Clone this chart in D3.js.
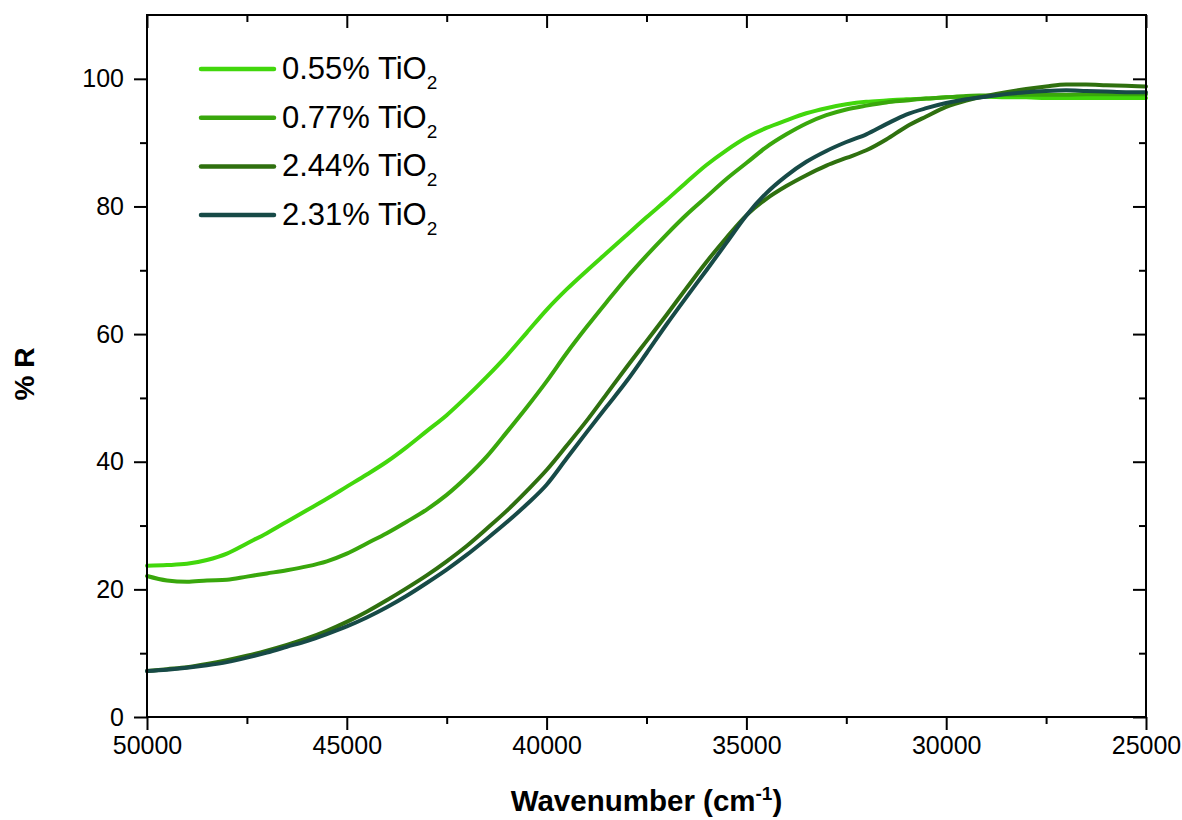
<!DOCTYPE html>
<meta charset="utf-8">
<style>

body { margin: 0; background: #fff; }

text {
  font-family: Arial, "Liberation Sans", sans-serif;
  fill: #000;
}

.axis path { display: none; }
.axis line { stroke: #000; stroke-width: 2px; }
.axis text { font-size: 25px; }

.frame {
  fill: none;
  stroke: #000;
  stroke-width: 2px;
}

.series {
  fill: none;
  stroke-width: 4px;
  stroke-linejoin: round;
  stroke-linecap: round;
}

</style>
<svg width="1182" height="820"></svg>
<script src="https://cdn.jsdelivr.net/npm/d3@7"></script>
<script>

// wavenumbers (cm-1) at which the curves were read
var wn = [50000, 49500, 49000, 48500, 48000, 47500, 47000, 46500, 46000, 45500,
          45000, 44500, 44000, 43500, 43000, 42500, 42000, 41500, 41000, 40500,
          40000, 39500, 39000, 38500, 38000, 37500, 37000, 36500, 36000, 35500,
          35000, 34500, 34000, 33500, 33000, 32500, 32000, 31500, 31000, 30500,
          30000, 29500, 29000, 28500, 28000, 27500, 27000, 26500, 26000, 25500, 25000];

var r055 = [23.7, 23.8, 24.0, 24.6, 25.6, 27.2, 28.8, 30.6, 32.4, 34.2,
            36.1, 38.0, 40.0, 42.3, 44.8, 47.3, 50.2, 53.3, 56.6, 60.2,
            63.8, 67.0, 69.9, 72.7, 75.5, 78.3, 81.0, 83.8, 86.5, 88.8,
            90.8, 92.3, 93.5, 94.6, 95.4, 96.0, 96.4, 96.6, 96.8, 96.9,
            97.1, 97.2, 97.2, 97.1, 97.1, 97.0, 97.0, 97.0, 97.0, 97.0, 97.0];

var r077 = [22.1, 21.4, 21.2, 21.4, 21.5, 22.0, 22.5, 23.0, 23.6, 24.4,
            25.6, 27.2, 28.8, 30.6, 32.5, 34.8, 37.6, 40.8, 44.6, 48.5,
            52.6, 57.0, 61.1, 65.0, 68.8, 72.3, 75.6, 78.7, 81.5, 84.3,
            86.8, 89.3, 91.3, 93.0, 94.3, 95.2, 95.8, 96.3, 96.6, 96.9,
            97.1, 97.3, 97.4, 97.5, 97.5, 97.5, 97.5, 97.6, 97.6, 97.6, 97.6];

var r244 = [7.2, 7.5, 7.8, 8.3, 8.9, 9.6, 10.4, 11.3, 12.3, 13.5,
            14.9, 16.5, 18.3, 20.2, 22.2, 24.4, 26.8, 29.5, 32.3, 35.4,
            38.7, 42.5, 46.4, 50.6, 54.8, 58.9, 63.0, 67.2, 71.3, 75.1,
            78.6, 81.2, 83.2, 84.9, 86.4, 87.6, 88.8, 90.5, 92.5, 94.1,
            95.6, 96.6, 97.3, 97.9, 98.4, 98.8, 99.1, 99.1, 99.0, 98.9, 98.8];

var r231 = [7.2, 7.4, 7.7, 8.1, 8.6, 9.3, 10.1, 11.0, 11.9, 13.0,
            14.2, 15.6, 17.2, 19.0, 21.0, 23.1, 25.4, 27.9, 30.5, 33.3,
            36.4, 40.5, 44.6, 48.6, 52.6, 57.0, 61.5, 65.8, 70.0, 74.3,
            78.6, 82.1, 84.8, 87.0, 88.7, 90.1, 91.3, 92.9, 94.4, 95.4,
            96.2, 96.8, 97.2, 97.6, 97.9, 98.1, 98.2, 98.1, 98.0, 97.9, 97.9];

var labels = ["0.55%", "0.77%", "2.44%", "2.31%"];
var colors = ["#42d70c", "#39a70c", "#2f700f", "#174a47"];
var series = [r055, r077, r244, r231];

var xMajor = [50000, 45000, 40000, 35000, 30000, 25000];
var yMajor = [0, 20, 40, 60, 80, 100];

var svg = d3.select("svg");

var mLeft = 147, mRight = 1146, mTop = 15, mBottom = 717;

var x = d3.scaleLinear().domain([50000, 25000]).range([mLeft, mRight]);
var y = d3.scaleLinear().domain([0, 110]).range([mBottom, mTop]);

var xMinor = d3.range(47500, 25000, -5000);
var yMinor = d3.range(10, 110, 20);

// bottom axis, ticks outward
svg.append("g").attr("class", "axis")
    .attr("transform", "translate(0," + mBottom + ")")
    .call(d3.axisBottom(x).tickValues(xMajor).tickSize(13).tickPadding(6).tickFormat(d3.format("d")));
svg.append("g").attr("class", "axis")
    .attr("transform", "translate(0," + mBottom + ")")
    .call(d3.axisBottom(x).tickValues(xMinor).tickSize(7).tickFormat(""));

// left axis, ticks outward
svg.append("g").attr("class", "axis")
    .attr("transform", "translate(" + mLeft + ",0)")
    .call(d3.axisLeft(y).tickValues(yMajor).tickSize(13).tickPadding(10));
svg.append("g").attr("class", "axis")
    .attr("transform", "translate(" + mLeft + ",0)")
    .call(d3.axisLeft(y).tickValues(yMinor).tickSize(7).tickFormat(""));

// top and right, ticks inward
svg.append("g").attr("class", "axis")
    .attr("transform", "translate(0," + mTop + ")")
    .call(d3.axisTop(x).tickValues(xMajor).tickSize(-13).tickFormat(""));
svg.append("g").attr("class", "axis")
    .attr("transform", "translate(0," + mTop + ")")
    .call(d3.axisTop(x).tickValues(xMinor).tickSize(-7).tickFormat(""));
svg.append("g").attr("class", "axis")
    .attr("transform", "translate(" + mRight + ",0)")
    .call(d3.axisRight(y).tickValues(yMajor).tickSize(-13).tickFormat(""));
svg.append("g").attr("class", "axis")
    .attr("transform", "translate(" + mRight + ",0)")
    .call(d3.axisRight(y).tickValues(yMinor).tickSize(-7).tickFormat(""));

var line = d3.line()
    .curve(d3.curveMonotoneX)
    .x(function(d, i) { return x(wn[i]); })
    .y(function(d) { return y(d); });

svg.append("g").selectAll("path")
    .data(series)
  .enter().append("path")
    .attr("class", "series")
    .attr("stroke", function(d, i) { return colors[i]; })
    .attr("d", line);

svg.append("rect")
    .attr("class", "frame")
    .attr("x", mLeft)
    .attr("y", mTop)
    .attr("width", mRight - mLeft)
    .attr("height", mBottom - mTop);

// legend
var legend = svg.append("g").selectAll("g")
    .data(labels)
  .enter().append("g")
    .attr("transform", function(d, i) { return "translate(201," + (69 + i * 48.7) + ")"; });

legend.append("line")
    .attr("x2", 73)
    .attr("stroke", function(d, i) { return colors[i]; })
    .attr("stroke-width", 4.5)
    .attr("stroke-linecap", "round");

var lt = legend.append("text")
    .attr("x", 81)
    .attr("y", 10)
    .style("font-size", "31px");
lt.append("tspan").text(function(d) { return d + " TiO"; });
lt.append("tspan").attr("dy", 10).style("font-size", "19px").text("2");

// axis titles
svg.append("text")
    .attr("transform", "translate(34," + ((mTop + mBottom) / 2 + 8) + ") rotate(-90)")
    .attr("text-anchor", "middle")
    .style("font-size", "28px")
    .style("font-weight", "bold")
    .text("% R");

var xt = svg.append("text")
    .attr("x", (mLeft + mRight) / 2)
    .attr("y", 811)
    .attr("text-anchor", "middle")
    .style("font-size", "29.5px")
    .style("font-weight", "bold");
xt.append("tspan").text("Wavenumber (cm");
xt.append("tspan").attr("dy", -11).style("font-size", "19px").text("-1");
xt.append("tspan").attr("dy", 11).text(")");

</script>
